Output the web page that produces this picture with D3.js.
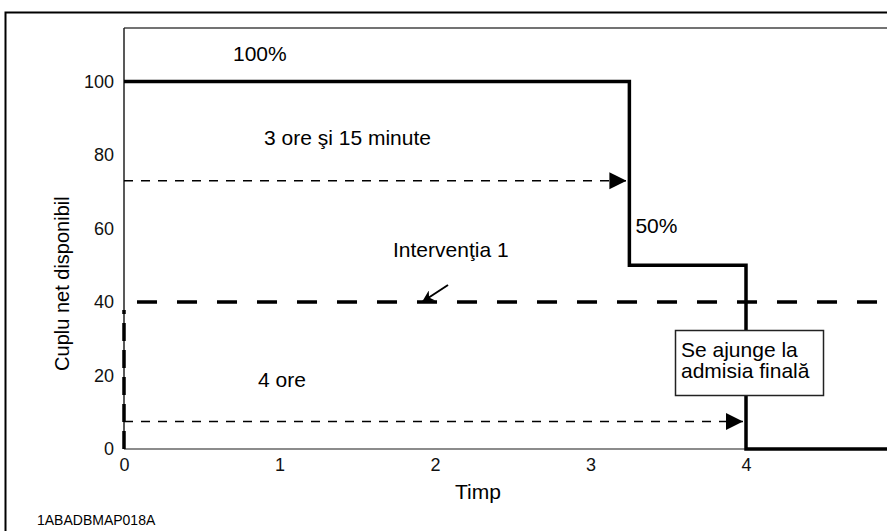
<!DOCTYPE html>
<html>
<head>
<meta charset="utf-8">
<script src="https://cdn.jsdelivr.net/npm/d3@7"></script>
<style>
  html, body { margin: 0; padding: 0; background: #fff; }
  svg { display: block; font-family: "Liberation Sans", Arial, sans-serif; }
</style>
</head>
<body>
<svg id="chart" width="887" height="531"></svg>
<script>
// Tick labels
const timeTicks = [0, 1, 2, 3, 4];
const torqueTicks = [0, 20, 40, 60, 80, 100];

// Available net torque (%) as a step function of time (hours)
const stepTimes = [0, 3.25, 4, 4.95];
const stepTorque = [100, 50, 0, 0];

// Intervention threshold level
const interventionLevel = 40;

// Time markers: level where the arrow is drawn, time reached, label
const markerLevels = [73, 7.5];
const markerTimes = [3.25, 4];
const markerLabels = ["3 ore şi 15 minute", "4 ore"];

const svg = d3.select("#chart");
const x = d3.scaleLinear().domain([0, 4]).range([124, 746]);
const y = d3.scaleLinear().domain([0, 100]).range([449, 81.5]);
const yTop = y.invert(28);
const LABEL = 21;

// arrowhead markers
const defs = svg.append("defs");
defs.append("marker").attr("id", "tri").attr("viewBox", "0 0 10 10")
  .attr("refX", 10).attr("refY", 5).attr("markerWidth", 17).attr("markerHeight", 19)
  .attr("markerUnits", "userSpaceOnUse").attr("orient", "auto")
  .append("path").attr("d", "M0,0L10,5L0,10Z").attr("fill", "#000");
defs.append("marker").attr("id", "tri2").attr("viewBox", "0 0 10 10")
  .attr("refX", 10).attr("refY", 5).attr("markerWidth", 15).attr("markerHeight", 12)
  .attr("markerUnits", "userSpaceOnUse").attr("orient", "auto")
  .append("path").attr("d", "M0,0L10,5L0,10L3,5Z").attr("fill", "#000");

// outer frame
svg.append("rect").attr("x", 5.5).attr("y", 12.5).attr("width", 900).attr("height", 540)
  .attr("fill", "none").attr("stroke", "#000").attr("stroke-width", 2);

// plot frame: top, left, bottom
svg.append("line").attr("x1", x(0)).attr("x2", 900).attr("y1", y(yTop)).attr("y2", y(yTop))
  .attr("stroke", "#444").attr("stroke-width", 1.5);
svg.append("line").attr("x1", x(0)).attr("x2", x(0)).attr("y1", y(yTop)).attr("y2", y(0))
  .attr("stroke", "#222").attr("stroke-width", 1.5);
svg.append("line").attr("x1", x(0)).attr("x2", 900).attr("y1", y(0)).attr("y2", y(0))
  .attr("stroke", "#666").attr("stroke-width", 1.5);

// axes (labels only)
const yAxis = svg.append("g").attr("transform", `translate(${x(0) - 10},0)`)
  .call(d3.axisLeft(y).tickValues(torqueTicks).tickFormat(d3.format("d")).tickSize(0).tickPadding(0));
yAxis.select(".domain").remove();
yAxis.selectAll("text").attr("font-size", 18).attr("fill", "#111")
  .attr("font-family", "Liberation Sans, Arial, sans-serif");

const xAxis = svg.append("g").attr("transform", `translate(0,${y(0) + 8})`)
  .call(d3.axisBottom(x).tickValues(timeTicks).tickFormat(d3.format("d")).tickSize(0).tickPadding(1));
xAxis.select(".domain").remove();
xAxis.selectAll("text").attr("font-size", 18).attr("fill", "#111")
  .attr("font-family", "Liberation Sans, Arial, sans-serif");

// axis titles
svg.append("text").attr("transform", `translate(69,${y(45)}) rotate(-90)`)
  .attr("text-anchor", "middle").attr("font-size", 20).text("Cuplu net disponibil");
svg.append("text").attr("x", 478).attr("y", 499).attr("text-anchor", "middle")
  .attr("font-size", LABEL).text("Timp");
svg.append("text").attr("x", 37).attr("y", 525).attr("font-size", 14).text("1ABADBMAP018A");

// intervention threshold (thick dashes)
svg.append("line").attr("x1", x(0) + 13).attr("x2", x(4.88))
  .attr("y1", y(interventionLevel)).attr("y2", y(interventionLevel))
  .attr("stroke", "#000").attr("stroke-width", 3.5).attr("stroke-dasharray", "20,20");
svg.append("line").attr("x1", x(0)).attr("x2", x(0))
  .attr("y1", y(0)).attr("y2", y(interventionLevel) + 8)
  .attr("stroke", "#000").attr("stroke-width", 3.5).attr("stroke-dasharray", "18,9");

// time marker arrows
markerLevels.forEach((lv, i) => {
  svg.append("line").attr("x1", x(0)).attr("x2", x(markerTimes[i]) - 3)
    .attr("y1", y(lv)).attr("y2", y(lv))
    .attr("stroke", "#000").attr("stroke-width", 1.5).attr("stroke-dasharray", "9,8")
    .attr("marker-end", "url(#tri)");
});
svg.append("text").attr("x", 264).attr("y", 145).attr("font-size", LABEL).text(markerLabels[0]);
svg.append("text").attr("x", 258).attr("y", 387).attr("font-size", LABEL).text(markerLabels[1]);

// step line of available torque
const pts = stepTimes.map((t, i) => [t, stepTorque[i]]);
svg.append("path").datum(pts)
  .attr("d", d3.line().x(d => x(d[0])).y(d => y(d[1])).curve(d3.curveStepAfter))
  .attr("fill", "none").attr("stroke", "#000").attr("stroke-width", 3.5)
  .attr("stroke-linejoin", "miter");

// step labels
svg.append("text").attr("x", 233).attr("y", 61).attr("font-size", LABEL).text("100%");
svg.append("text").attr("x", x(3.25) + 6).attr("y", 233).attr("font-size", LABEL).text("50%");

// intervention label and pointer
svg.append("text").attr("x", 393).attr("y", 257).attr("font-size", LABEL).text("Intervenţia 1");
svg.append("line").attr("x1", 448).attr("y1", 285).attr("x2", 422).attr("y2", 302)
  .attr("stroke", "#000").attr("stroke-width", 2).attr("marker-end", "url(#tri2)");

// final admission box
svg.append("rect").attr("x", 675.5).attr("y", 330.5).attr("width", 148).attr("height", 65)
  .attr("fill", "#fff").attr("stroke", "#222").attr("stroke-width", 1.5);
svg.append("text").attr("x", 681).attr("y", 357).attr("font-size", LABEL).text("Se ajunge la");
svg.append("text").attr("x", 681).attr("y", 378).attr("font-size", LABEL).text("admisia finală");
</script>
</body>
</html>
